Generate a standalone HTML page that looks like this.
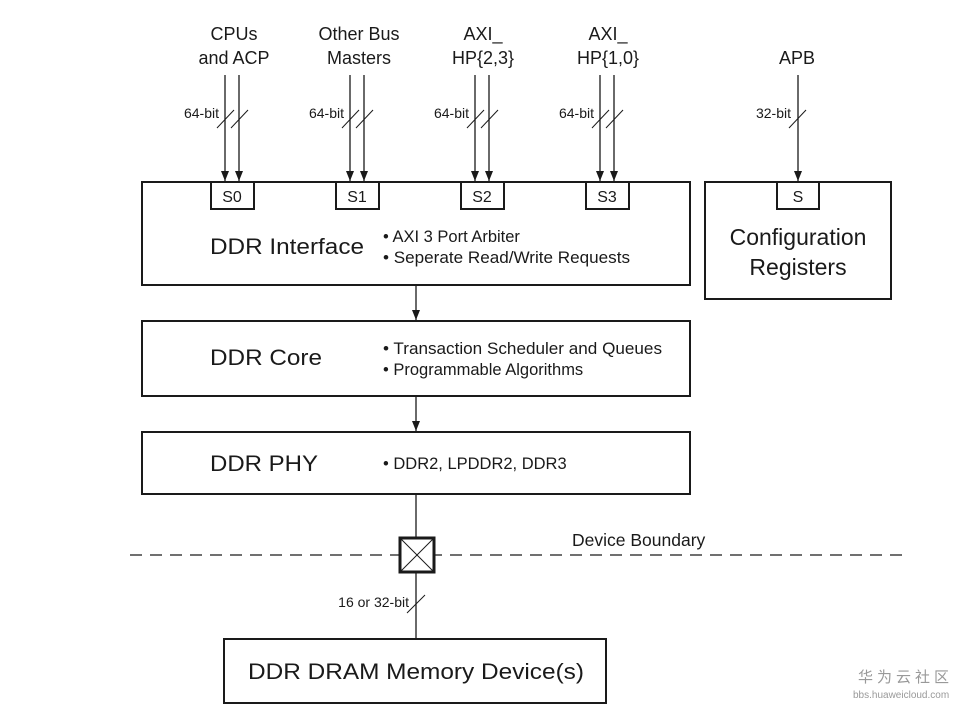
<!DOCTYPE html>
<html><head><meta charset="utf-8"><style>
html,body{margin:0;padding:0;background:#fff;}
svg{display:block;}
text{font-family:"Liberation Sans",Arial,sans-serif;fill:#1a1a1a;}
</style></head><body>
<svg width="975" height="711" viewBox="0 0 975 711" xmlns="http://www.w3.org/2000/svg">
<defs>
<marker id="ah" markerWidth="10" markerHeight="8" refX="10" refY="4" orient="auto" markerUnits="userSpaceOnUse">
<path d="M0,0 L10,4 L0,8 Z" fill="#1a1a1a"/>
</marker>
</defs>
<g stroke="#1a1a1a" fill="none">
<g stroke-width="1.3">
<line x1="225" y1="75" x2="225" y2="181" marker-end="url(#ah)"/>
<line x1="239" y1="75" x2="239" y2="181" marker-end="url(#ah)"/>
<line x1="350" y1="75" x2="350" y2="181" marker-end="url(#ah)"/>
<line x1="364" y1="75" x2="364" y2="181" marker-end="url(#ah)"/>
<line x1="475" y1="75" x2="475" y2="181" marker-end="url(#ah)"/>
<line x1="489" y1="75" x2="489" y2="181" marker-end="url(#ah)"/>
<line x1="600" y1="75" x2="600" y2="181" marker-end="url(#ah)"/>
<line x1="614" y1="75" x2="614" y2="181" marker-end="url(#ah)"/>
<line x1="798" y1="75" x2="798" y2="181" marker-end="url(#ah)"/>
<line x1="416" y1="286" x2="416" y2="320" marker-end="url(#ah)"/>
<line x1="416" y1="397" x2="416" y2="431" marker-end="url(#ah)"/>
<line x1="416" y1="495" x2="416" y2="538"/>
<line x1="416" y1="572" x2="416" y2="639"/>
</g>
<g stroke-width="1">
<line x1="217" y1="128" x2="234" y2="110"/><line x1="231" y1="128" x2="248" y2="110"/>
<line x1="342" y1="128" x2="359" y2="110"/><line x1="356" y1="128" x2="373" y2="110"/>
<line x1="467" y1="128" x2="484" y2="110"/><line x1="481" y1="128" x2="498" y2="110"/>
<line x1="592" y1="128" x2="609" y2="110"/><line x1="606" y1="128" x2="623" y2="110"/>
<line x1="789" y1="128" x2="806" y2="110"/>
<line x1="407" y1="613" x2="425" y2="595"/>
</g>
<g stroke-width="2">
<rect x="142" y="182" width="548" height="103"/>
<rect x="211" y="182" width="43" height="27" fill="#fff"/>
<rect x="336" y="182" width="43" height="27" fill="#fff"/>
<rect x="461" y="182" width="43" height="27" fill="#fff"/>
<rect x="586" y="182" width="43" height="27" fill="#fff"/>
<rect x="705" y="182" width="186" height="117"/>
<rect x="777" y="182" width="42" height="27" fill="#fff"/>
<rect x="142" y="321" width="548" height="75"/>
<rect x="142" y="432" width="548" height="62"/>
<rect x="224" y="639" width="382" height="64"/>
</g>
<line x1="130" y1="555" x2="905" y2="555" stroke-width="1.3" stroke-dasharray="12,8"/>
<rect x="400" y="538" width="34" height="34" stroke-width="3" fill="#fff"/>
<line x1="401" y1="539" x2="433" y2="571" stroke-width="1"/>
<line x1="433" y1="539" x2="401" y2="571" stroke-width="1"/>
</g>
<g font-size="18" text-anchor="middle">
<text x="234" y="40">CPUs</text><text x="234" y="64">and ACP</text>
<text x="359" y="40">Other Bus</text><text x="359" y="64">Masters</text>
<text x="483" y="40">AXI_</text><text x="483" y="64">HP{2,3}</text>
<text x="608" y="40">AXI_</text><text x="608" y="64">HP{1,0}</text>
<text x="797" y="64">APB</text>
</g>
<g font-size="14" text-anchor="end">
<text x="219" y="118">64-bit</text>
<text x="344" y="118">64-bit</text>
<text x="469" y="118">64-bit</text>
<text x="594" y="118">64-bit</text>
<text x="791" y="118">32-bit</text>
<text x="409" y="607">16 or 32-bit</text>
</g>
<g font-size="16" text-anchor="middle">
<text x="232" y="202">S0</text><text x="357" y="202">S1</text>
<text x="482" y="202">S2</text><text x="607" y="202">S3</text>
<text x="798" y="202">S</text>
</g>
<g font-size="22">
<text x="210" y="254" textLength="154" lengthAdjust="spacingAndGlyphs">DDR Interface</text>
<text x="210" y="365" textLength="112" lengthAdjust="spacingAndGlyphs">DDR Core</text>
<text x="210" y="471" textLength="108" lengthAdjust="spacingAndGlyphs">DDR PHY</text>
<text x="248" y="679" textLength="336" lengthAdjust="spacingAndGlyphs">DDR DRAM Memory Device(s)</text>
<text x="798" y="245" text-anchor="middle" font-size="23">Configuration</text>
<text x="798" y="275" text-anchor="middle" font-size="23">Registers</text>
</g>
<g font-size="16.5">
<text x="383" y="242">• AXI 3 Port Arbiter</text>
<text x="383" y="263" textLength="247" lengthAdjust="spacingAndGlyphs">• Seperate Read/Write Requests</text>
<text x="383" y="354" textLength="279" lengthAdjust="spacingAndGlyphs">• Transaction Scheduler and Queues</text>
<text x="383" y="375">• Programmable Algorithms</text>
<text x="383" y="469">• DDR2, LPDDR2, DDR3</text>
<text x="572" y="546" font-size="17.5">Device Boundary</text>
</g>
<text x="858" y="682" font-size="15" style="fill:#999;font-family:'Liberation Sans','Noto Sans CJK SC',sans-serif" letter-spacing="4">华为云社区</text>
<text x="853" y="698" font-size="10" style="fill:#999">bbs.huaweicloud.com</text>
</svg>
</body></html>
